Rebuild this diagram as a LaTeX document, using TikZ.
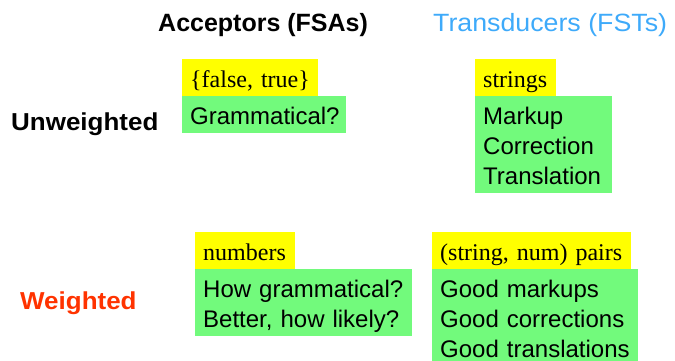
\documentclass[tikz,border=0pt]{standalone}
\usepackage{fontspec}
\setmainfont{Liberation Sans}
\newfontfamily\tagface{Liberation Serif}

\definecolor{tagyellow}{RGB}{255,255,0}
\definecolor{boxgreen}{RGB}{114,250,124}
\definecolor{fstblue}{RGB}{62,170,250}
\definecolor{wred}{RGB}{255,51,0}

% first-line ascent and last-line descent shared by every box
\newcommand\boxtop{\rule{0pt}{28pt}}
\newcommand\boxbot{\rule[-9pt]{0pt}{9pt}}

\begin{document}
\begin{tikzpicture}[x=1pt,y=-1pt,
  header/.style={anchor=base west, inner sep=0pt,
    font=\fontsize{25}{30}\selectfont},
  rowlabel/.style={anchor=base west, inner sep=0pt,
    font=\fontsize{24.5}{30}\selectfont\bfseries},
  tagbox/.style={anchor=north west, fill=tagyellow, inner xsep=8pt,
    inner ysep=0pt, text width=#1-16pt, align=left,
    font=\tagface\fontsize{24}{30}\selectfont},
  greenbox/.style={anchor=north west, fill=boxgreen, inner xsep=8pt,
    inner ysep=0pt, text width=#1-16pt, align=left,
    font=\fontsize{24}{30}\selectfont},
]
\useasboundingbox (0,0) rectangle (675,360);

% column headings
\node[header, font=\fontsize{25}{30}\selectfont\bfseries] (fsa) at (158,31.5)
  {Acceptors (FSAs)};
\node[header, text=fstblue] (fst) at (433,31.5)
  {\scalebox{1.07}[1]{Transducers (FSTs)}};

% row headings
\node[rowlabel] (unw) at (11,130) {\scalebox{1.06}[1]{Unweighted}};
\node[rowlabel, text=wred] (wtd) at (20,309.5) {\scalebox{1.06}[1]{Weighted}};

% unweighted acceptors
\node[tagbox=136pt] (ua-tag) at (182,59)
  {\boxtop\mbox{\{false, true\}}\boxbot};
\node[greenbox=164pt] (ua-box) at (182,96)
  {\boxtop\mbox{Grammatical?}\boxbot};

% unweighted transducers
\node[tagbox=81pt] (ut-tag) at (475,59) {\boxtop\mbox{strings}\boxbot};
\node[greenbox=137pt] (ut-box) at (475,96)
  {\boxtop\mbox{Markup}\\\mbox{Correction}\\\mbox{Translation}\boxbot};

% weighted acceptors
\node[tagbox=100pt] (wa-tag) at (195,232) {\boxtop\mbox{numbers}\boxbot};
\node[greenbox=217pt] (wa-box) at (195,269)
  {\boxtop\mbox{How grammatical?}\\\mbox{Better, how likely?}\boxbot};

% weighted transducers
\node[tagbox=199pt] (wt-tag) at (432,232)
  {\boxtop\mbox{(string, num) pairs}\boxbot};
\node[greenbox=206pt] (wt-box) at (432,269)
  {\boxtop\mbox{Good markups}\\\mbox{Good corrections}\\\mbox{Good translations}\boxbot};
\end{tikzpicture}
\end{document}
